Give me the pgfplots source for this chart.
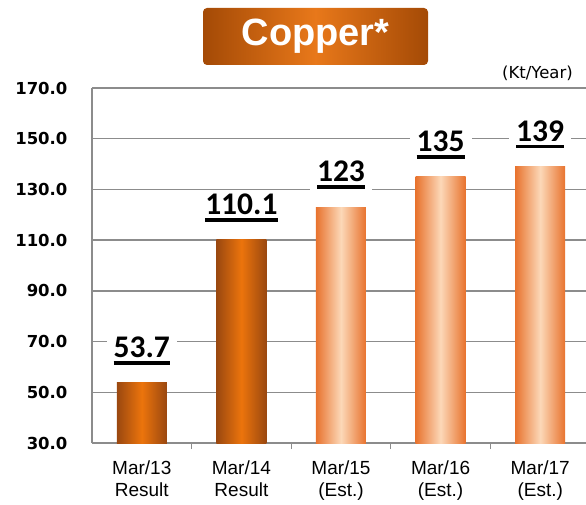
\documentclass[border=0pt]{standalone}
\usepackage{fontspec}
\setmainfont{Liberation Sans}
\newfontfamily\dejavu{DejaVu Sans}
\newfontfamily\carlito{Carlito}
\usepackage{pgfplots}
\pgfplotsset{compat=1.18}
\definecolor{DarkEdge}{HTML}{9A4810}
\definecolor{DarkMid}{HTML}{EC740C}
\definecolor{LightEdge}{HTML}{E8732E}
\definecolor{LightMid}{HTML}{FCD8B8}
\definecolor{GridGray}{HTML}{8C8C8C}
\definecolor{TitleEdge}{HTML}{A44A06}
\definecolor{TitleMid}{HTML}{E8781A}
\newbox\ulbox
\newcommand\ul[1]{\setbox\ulbox\hbox{#1}\rlap{\rule[-7pt]{\wd\ulbox}{3.5pt}}\box\ulbox}
\pgfplotsset{
    darkbar/.style={draw=none, left color=DarkEdge, right color=DarkEdge, middle color=DarkMid},
    lightbar/.style={draw=none, left color=LightEdge, right color=LightEdge, middle color=LightMid},
}

\begin{document}
\begin{tikzpicture}[x=1pt,y=1pt]
\useasboundingbox (0,0) rectangle (586,504);
% title box
\node[rounded corners=4pt, left color=TitleEdge, right color=TitleEdge, middle color=TitleMid,
      minimum width=225pt, minimum height=57pt, inner sep=0pt, text=white,
      font=\fontsize{38}{40}\selectfont\bfseries] at (315.5,467.5) {Copper*};
\node[font=\dejavu\fontsize{16.5}{18}\selectfont, anchor=east, inner sep=0pt] at (573,431) {(Kt/Year)};

\begin{axis}[
    at={(92pt,61pt)}, anchor=south west,
    scale only axis, width=494pt, height=355pt,
    xmin=-0.5, xmax=4.46, ymin=30, ymax=170,
    ytick={30,50,...,170},
    axis x line*=bottom, axis y line*=left,
    axis line style={GridGray, line width=1.2pt, -},
    ymajorgrids, grid style={GridGray, line width=1.3pt},
    tick align=inside,
    major tick length=0pt, minor tick length=6pt,
    minor xtick={0.5,1.5,2.5,3.5},
    minor tick style={GridGray, line width=1pt},
    xtick={0,1,2,3,4},
    xticklabels={{Mar/13\\Result},{Mar/14\\Result},{Mar/15\\(Est.)},{Mar/16\\(Est.)},{Mar/17\\(Est.)}},
    xticklabel style={align=center, font=\fontsize{19}{22}\selectfont, yshift=-14pt},
    /pgf/number format/assume math mode=true,
    yticklabel={\pgfmathprintnumber[fixed,fixed zerofill,precision=1]{\tick}},
    yticklabel style={font=\dejavu\bfseries\fontsize{16.5}{19}\selectfont, xshift=-21pt},
    ybar, bar width=50pt, bar shift=0pt,
    point meta=explicit symbolic,
    nodes near coords={\ul{\pgfplotspointmeta}},
    every node near coord/.append style={font=\carlito\bfseries\fontsize{31.5}{34}\selectfont,
        fill=white, inner xsep=7pt, inner ysep=2pt, anchor=south, yshift=16pt},
    ]
\addplot[darkbar]  coordinates {(0,53.7) [53.7]};
\addplot[darkbar]  coordinates {(1,110.1) [110.1]};
\addplot[lightbar] coordinates {(2,123) [123]};
\addplot[lightbar] coordinates {(3,135) [135]};
\addplot[lightbar] coordinates {(4,139) [139]};
\end{axis}
\end{tikzpicture}
\end{document}
